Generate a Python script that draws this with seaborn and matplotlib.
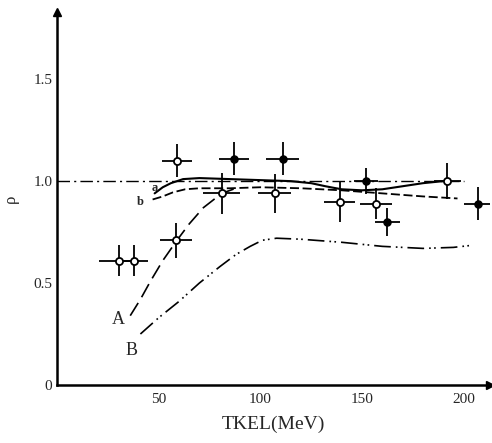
import matplotlib
matplotlib.use("Agg")
import matplotlib.pyplot as plt
import seaborn as sns
import pandas as pd

# ---- data ----
open_x = [30.5, 38, 58.5, 59, 81, 107, 139, 157, 192]
open_y = [0.61, 0.61, 0.71, 1.10, 0.94, 0.94, 0.90, 0.89, 1.00]
open_xerr = [10, 6.5, 8, 7.5, 9, 8, 7.5, 8, 6.5]
open_yerr = [0.075, 0.075, 0.085, 0.08, 0.10, 0.095, 0.10, 0.075, 0.09]

filled_x = [87, 111, 152, 162.5, 207]
filled_y = [1.11, 1.11, 1.00, 0.80, 0.89]
filled_xerr = [7.5, 8, 6, 6, 7]
filled_yerr = [0.08, 0.08, 0.065, 0.07, 0.08]

ref_x = [0, 200]
ref_y = [1.0, 1.0]

a_x = [48, 52, 56, 62, 70, 85, 100, 115, 125, 132, 140, 150, 160, 170, 180, 190]
a_y = [0.94, 0.97, 0.99, 1.01, 1.015, 1.01, 1.005, 1.0, 0.99, 0.975, 0.96, 0.955, 0.96, 0.975, 0.99, 1.0]

b_x = [47, 52, 57, 63, 70, 85, 100, 120, 140, 160, 180, 197]
b_y = [0.91, 0.925, 0.945, 0.96, 0.965, 0.965, 0.97, 0.965, 0.955, 0.94, 0.925, 0.915]

A_x = [36, 41, 46, 52, 59, 65, 72, 81, 88]
A_y = [0.34, 0.42, 0.51, 0.61, 0.71, 0.79, 0.87, 0.94, 0.965]

B_x = [41, 50, 60, 70, 80, 88, 95, 101, 108, 120, 140, 160, 180, 195, 204]
B_y = [0.25, 0.33, 0.41, 0.50, 0.58, 0.64, 0.68, 0.71, 0.72, 0.715, 0.70, 0.68, 0.67, 0.675, 0.685]

xticks = [50, 100, 150, 200]
yticks = [0, 0.5, 1.0, 1.5]
ytick_labels = ["0", "0.5", "1.0", "1.5"]

sns.set_style("white")
plt.rcParams['font.family'] = ['Liberation Serif', 'DejaVu Serif']

fig = plt.figure(figsize=(4.92, 4.43), dpi=100)
ax = fig.add_axes([0.116, 0.131, 0.88, 0.842])

# curves
sns.lineplot(x=ref_x, y=ref_y, ax=ax, color='k', lw=1.0, linestyle=(0, (9, 3, 1.5, 3)))
sns.lineplot(x=a_x, y=a_y, ax=ax, color='k', lw=1.5, linestyle='-')
sns.lineplot(x=b_x, y=b_y, ax=ax, color='k', lw=1.3, linestyle=(0, (5, 2)))
sns.lineplot(x=A_x, y=A_y, ax=ax, color='k', lw=1.2, linestyle=(0, (9, 4)))
sns.lineplot(x=B_x, y=B_y, ax=ax, color='k', lw=1.2, linestyle=(0, (10, 3, 1, 2, 1, 3)))

# error crosses
ax.errorbar(open_x, open_y, xerr=open_xerr, yerr=open_yerr, fmt='none',
            ecolor='k', elinewidth=1.3, capsize=0, zorder=3)
ax.errorbar(filled_x, filled_y, xerr=filled_xerr, yerr=filled_yerr, fmt='none',
            ecolor='k', elinewidth=1.3, capsize=0, zorder=3)

# points
sns.scatterplot(x=open_x, y=open_y, ax=ax, marker='o', s=26, color='white',
                edgecolor='k', linewidth=1.3, zorder=4)
sns.scatterplot(x=filled_x, y=filled_y, ax=ax, marker='o', s=26, color='k',
                edgecolor='k', linewidth=1.0, zorder=4)

# labels on curves
ax.text(30, 0.32, "A", fontsize=13, ha='center', va='center')
ax.text(36.5, 0.17, "B", fontsize=13, ha='center', va='center')
ax.text(48, 0.965, "a", fontsize=9, fontweight='bold', ha='center', va='center')
ax.text(41, 0.90, "b", fontsize=9, fontweight='bold', ha='center', va='center')

ax.set_xlim(0, 213)
ax.set_ylim(0, 1.83)
ax.set_xticks(xticks)
ax.set_yticks(yticks)
ax.set_yticklabels(ytick_labels)
ax.tick_params(axis='both', direction='in', length=5, width=1.2, labelsize=11, color='k')
ax.tick_params(axis='x', pad=6)

for s in ['top', 'right']:
    ax.spines[s].set_visible(False)
for s in ['left', 'bottom']:
    ax.spines[s].set_color('k')
    ax.spines[s].set_linewidth(1.8)

ax.plot(1, 0, '>k', markersize=6, transform=ax.transAxes, clip_on=False)
ax.plot(0, 1, '^k', markersize=6, transform=ax.transAxes, clip_on=False)

ax.set_xlabel("TKEL(MeV)", fontsize=14, labelpad=7)
ax.set_ylabel("ρ", fontsize=12, labelpad=10)

fig.savefig("out.png", dpi=100)
